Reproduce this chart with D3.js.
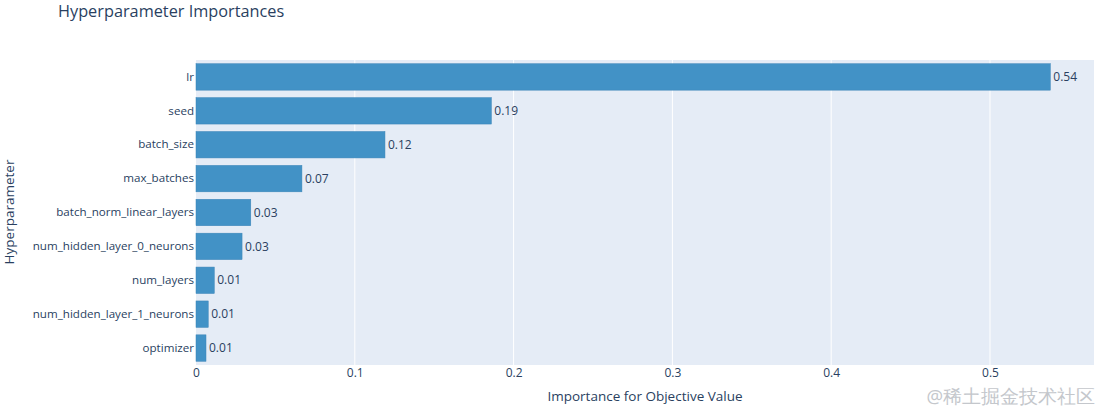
<!DOCTYPE html>
<html><head><meta charset="utf-8">
<script src="https://cdn.jsdelivr.net/npm/d3@7"></script>
<style>body{margin:0;background:#fff;} text{font-family:"Open Sans",sans-serif;}</style>
</head><body><svg id="c" width="1100" height="409"></svg>
<script>
const categories = ["lr","seed","batch_size","max_batches","batch_norm_linear_layers","num_hidden_layer_0_neurons","num_layers","num_hidden_layer_1_neurons","optimizer"];
const values = [0.538,0.186,0.119,0.0667,0.0345,0.029,0.0115,0.0077,0.0063];
const valueLabels = ["0.54","0.19","0.12","0.07","0.03","0.03","0.01","0.01","0.01"];
const xTicks = [0,0.1,0.2,0.3,0.4,0.5];

const svg = d3.select("#c");
const m = {l:196, r:1094, t:60, b:365};
const x = d3.scaleLinear().domain([0, 0.5655]).range([m.l, m.r]);
const y = d3.scaleBand().domain(categories).range([m.t, m.b]).paddingInner(0.22).paddingOuter(0.11);
const txt = "#2a3f5f";

svg.append("rect").attr("x",m.l).attr("y",m.t).attr("width",m.r-m.l).attr("height",m.b-m.t).attr("fill","#e5ecf6");
svg.append("g").selectAll("line").data(xTicks.slice(1)).join("line")
  .attr("x1",d=>x(d)).attr("x2",d=>x(d)).attr("y1",m.t).attr("y2",m.b)
  .attr("stroke","#fff").attr("stroke-width",1);

svg.append("g").selectAll("rect").data(categories).join("rect")
  .attr("x",x(0)).attr("y",d=>y(d)).attr("height",y.bandwidth())
  .attr("width",(d,i)=>x(values[i])-x(0))
  .attr("fill","#4292c6").attr("stroke","#3b84b7").attr("stroke-width",0.5);

svg.append("g").selectAll("text").data(categories).join("text")
  .attr("x",(d,i)=>x(values[i])+3).attr("y",d=>y(d)+y.bandwidth()/2)
  .attr("dy","0.35em").attr("font-size",12).attr("fill",txt)
  .text((d,i)=>valueLabels[i]);

const xa = svg.append("g").attr("transform",`translate(0,${m.b})`)
  .call(d3.axisBottom(x).tickValues(xTicks).tickFormat(d=>d===0?"0":d3.format(".1f")(d)).tickSize(0).tickPadding(3));
xa.select(".domain").remove();
xa.selectAll("text").attr("font-size",12).attr("fill",txt).attr("font-family","Open Sans, sans-serif");

const ya = svg.append("g").attr("transform",`translate(${m.l},0)`)
  .call(d3.axisLeft(y).tickSize(0).tickPadding(2));
ya.select(".domain").remove();
ya.selectAll("text").attr("font-size",11.6).attr("fill",txt).attr("font-family","Open Sans, sans-serif");

svg.append("text").attr("x",58).attr("y",17).attr("font-size",16.3).attr("fill",txt).text("Hyperparameter Importances");
svg.append("text").attr("x",645).attr("y",401).attr("text-anchor","middle").attr("font-size",13.5).attr("fill",txt).text("Importance for Objective Value");
svg.append("text").attr("transform","translate(14,212) rotate(-90)").attr("text-anchor","middle").attr("font-size",13.5).attr("fill",txt).text("Hyperparameter");
svg.append("text").attr("x",1095).attr("y",403).attr("text-anchor","end").attr("font-size",18.5).attr("fill","#c4c7cc").attr("font-family","Noto Sans CJK SC, sans-serif").text("@稀土掘金技术社区");
</script></body></html>
